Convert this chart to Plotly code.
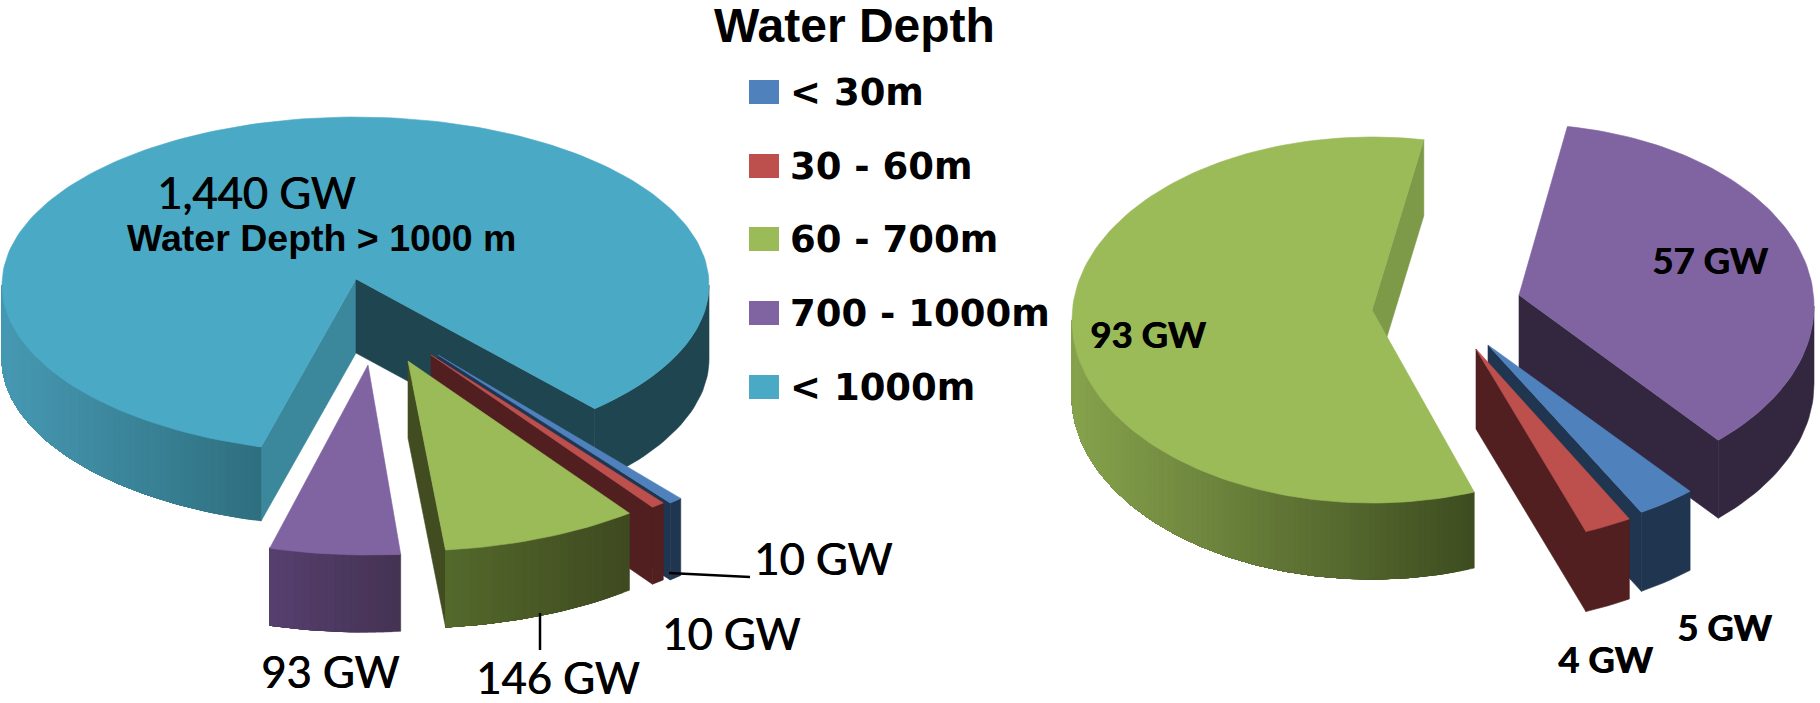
import math
import plotly.graph_objects as go

# Installed capacity by water depth band (GW)
categories = ["< 30m", "30 - 60m", "60 - 700m", "700 - 1000m", "< 1000m"]
left_values = [10, 10, 146, 93, 1440]
right_values = [5, 4, 93, 57]
heading = "Water Depth"
big_slice_note = "Water Depth > 1000 m"

# Palette per depth band
TOP = ["#4f81bd", "#bd504d", "#9bbb59", "#8064a2", "#4aa9c4"]

WIDTH, HEIGHT = 1820, 703


def mix(c1, c2, t):
    a = [int(c1[i:i + 2], 16) for i in (1, 3, 5)]
    b = [int(c2[i:i + 2], 16) for i in (1, 3, 5)]
    return "rgb(%d,%d,%d)" % tuple(round(p + (q - p) * t) for p, q in zip(a, b))


fig = go.Figure()


def polygon(xs, ys, color):
    fig.add_trace(go.Scatter(
        x=xs + xs[:1], y=ys + ys[:1], mode="lines", fill="toself",
        fillcolor=color, line=dict(color=color, width=0.6),
        hoverinfo="skip", showlegend=False,
    ))


def front_runs(a0, a1):
    """Angle ranges of an arc whose outer wall faces the viewer."""
    runs = []
    for k in range(0, 2):
        lo = max(a0, 360 * k)
        hi = min(a1, 360 * k + 180)
        if hi > lo:
            runs.append((lo, hi))
    return runs


def wedge(a0, a1, color, s):
    cx, cy = s["centre"]
    ax, ay = s["apex"]
    rx, ry, depth = s["rx"], s["ry"], s["depth"]
    # Small perspective correction of the drawn edges
    d0, d1 = s.get("nudge", (0, 0))
    a0, a1 = a0 + d0, a1 + d1

    def rim(t):
        r = math.radians(t)
        return cx + rx * math.cos(r), cy + ry * math.sin(r)

    # Straight walls that face the viewer
    for edge, normal, wall in ((a0, a0 - 90, s.get("start_wall")), (a1, a1 + 90, s.get("end_wall"))):
        if wall and math.sin(math.radians(normal)) > 0:
            x, y = rim(edge)
            polygon([ax, x, x, ax], [ay, y, y + depth, ay + depth], wall)

    # Curved outer wall, shaded in overlapping strips so no seams show
    for (lo, hi), (c_l, c_r) in zip(front_runs(a0, a1), s["arc"]):
        n = 1 if c_l == c_r else max(2, int((hi - lo) / 1.2))
        fine = max(n, int((hi - lo) / 1.5))
        pts = [rim(lo + (hi - lo) * i / fine) for i in range(fine + 1)]
        x_min = min(p[0] for p in pts)
        x_max = max(p[0] for p in pts)
        # Paint from the far end of the run so each strip is covered by its neighbour
        for i in range(n):
            sub = pts[i * fine // n:]
            t = (sub[0][0] - x_min) / max(x_max - x_min, 1)
            xs = [p[0] for p in sub]
            polygon(xs + xs[::-1], [p[1] for p in sub] + [p[1] + depth for p in sub[::-1]],
                    mix(c_l, c_r, t))

    # Top face
    n = max(4, int((a1 - a0) / 1.5))
    pts = [rim(a0 + (a1 - a0) * i / n) for i in range(n + 1)]
    polygon([ax] + [p[0] for p in pts], [ay] + [p[1] for p in pts], color)


def angles(values, start):
    total = sum(values)
    out, a = [], start
    for v in values:
        out.append((a, a + v / total * 360))
        a = out[-1][1]
    return out


# Left pie: the large slice stays in place, the small ones are pulled forward
left_style = [
    dict(centre=(438, 355), apex=(438, 355), rx=370, ry=190, depth=77,
         end_wall="#1f3550", arc=[("#1f3550", "#1f3550")]),
    dict(centre=(431, 355), apex=(431, 355), rx=370, ry=190, depth=77,
         end_wall="#511f1f", arc=[("#511f1f", "#511f1f")]),
    dict(centre=(408, 361), apex=(408, 361), rx=370, ry=190, depth=77,
         end_wall="#414d20", arc=[("#546a2c", "#3f4a20")]),
    dict(centre=(368, 365), apex=(368, 365), rx=373, ry=190, depth=77, nudge=(0.8, 1.4),
         arc=[("#574070", "#443353")]),
    dict(centre=(355.5, 285), apex=(356, 279), rx=353.5, ry=168, depth=74, nudge=(1.6, -1.6),
         start_wall="#3b879c", end_wall="#1f4551",
         arc=[("#4799b3", "#2f7080"), ("#1f4551", "#1f4551")]),
]
left_angles = angles(left_values, 49)
for i in (4, 0, 1, 2, 3):
    wedge(*left_angles[i], TOP[i], left_style[i])

# Right pie: all four slices pulled apart
right_style = [
    dict(centre=(1488, 355), apex=(1488, 345), rx=305, ry=182, depth=79,
         end_wall="#1f3550", arc=[("#1f3550", "#1f3550")]),
    dict(centre=(1476, 359), apex=(1476, 349), rx=305, ry=185, depth=80,
         end_wall="#511f1f", arc=[("#511f1f", "#511f1f")]),
    dict(centre=(1372, 320), apex=(1372, 310), rx=300, ry=183, depth=76, nudge=(1.2, 0.5),
         end_wall="#7d9a48", arc=[("#87a34d", "#3e4d20")]),
    dict(centre=(1519, 306), apex=(1519, 295), rx=295, ry=182, depth=78, nudge=(0, -1),
         end_wall="#32273f", arc=[("#32273f", "#32273f")]),
]
right_angles = angles(right_values, 48.5)
for i in (3, 2, 0, 1):
    wedge(*right_angles[i], TOP[i], right_style[i])

# Leader lines
for xs, ys in (([540, 540], [613, 650]), ([669, 750], [573, 577])):
    fig.add_trace(go.Scatter(x=xs, y=ys, mode="lines", line=dict(color="#000000", width=2.5),
                             hoverinfo="skip", showlegend=False))


def label(x, y, text, family, size, bold=False, anchor="center", heavy=False):
    font = dict(family=family, size=size, color="#000000", weight="bold" if bold else "normal")
    if heavy:
        font["shadow"] = "0.8px 0 0 #000000"
    fig.add_annotation(
        x=x, y=y, xref="x", yref="y", text=text, showarrow=False,
        xanchor=anchor, yanchor="middle", font=font,
    )


def gw(v):
    return f"{v:,} GW"


SOFT = "Lato"
label(256, 192, gw(left_values[4]), SOFT, 43.5, heavy=True)
label(321, 238, big_slice_note, "Liberation Sans", 37.5, True)
label(823, 558, gw(left_values[0]), SOFT, 43.5, heavy=True)
label(731, 633, gw(left_values[1]), SOFT, 43.5, heavy=True)
label(557, 677, gw(left_values[2]), SOFT, 43.5, heavy=True)
label(330, 671, gw(left_values[3]), SOFT, 43.5, heavy=True)
label(1148, 334, gw(right_values[2]), SOFT, 36.5, True, heavy=True)
label(1710, 260, gw(right_values[3]), SOFT, 36.5, True, heavy=True)
label(1724, 627, gw(right_values[0]), SOFT, 36.5, True, heavy=True)
label(1605, 659, gw(right_values[1]), SOFT, 36.5, True, heavy=True)

# Legend column
label(854, 25, heading, "Liberation Sans", 48, True)
ROW_Y = [92, 166, 239, 313, 387]
for name, color, y in zip(categories, TOP, ROW_Y):
    fig.add_shape(type="rect", xref="x", yref="y", x0=749, x1=779, y0=y - 12, y1=y + 12,
                  fillcolor=color, line=dict(width=0))
    label(788, y, name, "DejaVu Sans", 37, True, anchor="left")

fig.update_xaxes(range=[0, WIDTH], visible=False, fixedrange=True)
fig.update_yaxes(range=[HEIGHT, 0], visible=False, fixedrange=True)
fig.update_layout(
    width=WIDTH, height=HEIGHT, margin=dict(l=0, r=0, t=0, b=0),
    paper_bgcolor="#ffffff", plot_bgcolor="#ffffff", showlegend=False,
)

fig.write_html("out.html")
